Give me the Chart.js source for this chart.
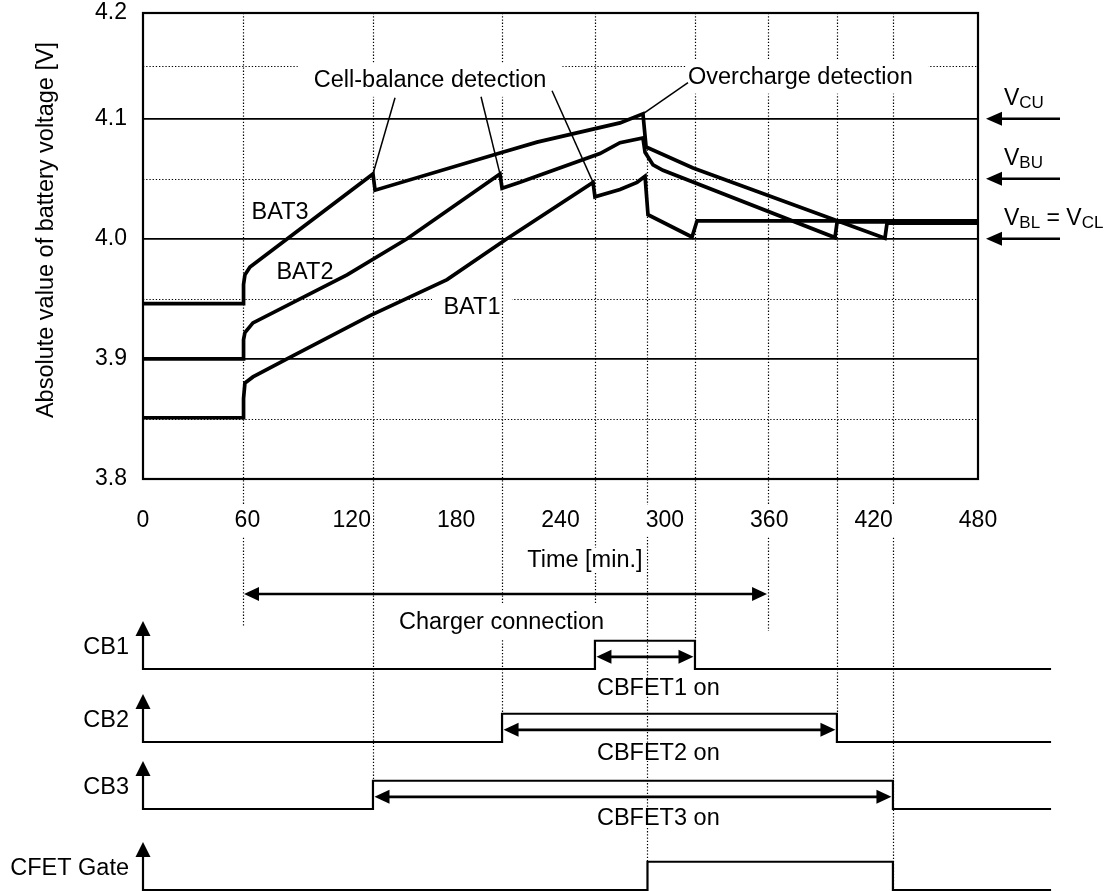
<!DOCTYPE html>
<html>
<head>
<meta charset="utf-8">
<title>Cell balance detection timing chart</title>
<script src="https://cdn.jsdelivr.net/npm/chart.js@4.4.1/dist/chart.umd.min.js"></script>
<style>
  html, body { margin:0; padding:0; background:#fff; overflow:hidden; }
  #wrap { position:relative; width:1106px; height:891px; overflow:hidden; background:#fff; }
  #wrap canvas { position:absolute; left:0; }
</style>
</head>
<body>
<div id="wrap">
  <canvas id="mainChart" width="1106" height="891" style="top:0px"></canvas>
  <canvas id="sigCB1" width="1106" height="100"></canvas>
  <canvas id="sigCB2" width="1106" height="100"></canvas>
  <canvas id="sigCB3" width="1106" height="100"></canvas>
  <canvas id="sigCFET" width="1106" height="100"></canvas>
</div>
<script>
// ---------------- data ----------------
const xTickValues = [0, 60, 120, 180, 240, 300, 360, 420, 480];
const yTickValues = [3.8, 3.9, 4.0, 4.1];
const yTopLabel = '4.2';

const bat1Time = [0, 57.5, 57.8, 58.6, 63.2, 82.8, 130.5, 174.8, 209.2, 258.7, 259.8, 274.2, 284.0, 288.6, 290.3, 315.6, 318.5, 480];
const bat1Volt = [3.851, 3.851, 3.867, 3.880, 3.885, 3.900, 3.936, 3.966, 4.000, 4.047, 4.035, 4.041, 4.047, 4.052, 4.020, 4.0015, 4.015, 4.015];

const bat2Time = [0, 57.5, 57.8, 58.6, 63.2, 117.3, 151.8, 205.2, 206.4, 216.7, 262.7, 274.2, 287.4, 288.6, 293.2, 298.9, 397.8, 399.0, 480];
const bat2Volt = [3.900, 3.900, 3.916, 3.922, 3.930, 3.970, 4.000, 4.054, 4.042, 4.047, 4.071, 4.080, 4.084, 4.072, 4.0615, 4.057, 4.001, 4.014, 4.014];

const bat3Time = [0, 57.5, 57.8, 58.6, 61.5, 132.2, 133.4, 205.2, 226.5, 274.2, 287.4, 289.2, 316.2, 426.5, 427.7, 480];
const bat3Volt = [3.946, 3.946, 3.962, 3.970, 3.9765, 4.054, 4.0405, 4.0715, 4.0805, 4.0965, 4.104, 4.0765, 4.059, 4.0005, 4.013, 4.013];

const batNames = ['BAT1', 'BAT2', 'BAT3'];
const detectTimes = [258.7, 205.2, 132.2];   // cell-balance detection peaks of BAT1, BAT2, BAT3
const overchargeTime = 287.4;                 // overcharge detection peak (BAT3)

const chargerSpan = [57.5, 359.3];
const cb1Edges = [259.8, 317.3];
const cb2Edges = [206.4, 398.9];
const cb3Edges = [132.2, 431.1];
const cfetEdges = [290.0, 431.1];
const signalEnd = 522;
const signalNames = ['CB1', 'CB2', 'CB3', 'CFET Gate'];
const onTexts = ['CBFET1 on', 'CBFET2 on', 'CBFET3 on', null];

const thresholdVolts = [4.1, 4.05, 4.0];
const thresholdLabels = [
  [['V', 0], ['CU', 1]],
  [['V', 0], ['BU', 1]],
  [['V', 0], ['BL', 1], [' = ', 0], ['V', 0], ['CL', 1]]
];

// ---------------- layout / style ----------------
const W = 1106, H = 891;
const PLOT_L = 143, PLOT_R = 978, PLOT_T = 13, PLOT_B = 479;
const X_MAX = 480, Y_MIN = 3.8, Y_TOP = 4.188;
const X_AXIS_H = 60;
const PX_PER_MIN = (PLOT_R - PLOT_L) / X_MAX;
const SIG_BASE = [669, 742, 809, 890];
const SIG_TEXT_DY = [19, 11, 9, 0];
const FAMILY = "'Liberation Sans', Arial, Helvetica, sans-serif";
const TXT = 23.5;
const font = (s) => `${s}px ${FAMILY}`;

const batLabelPos = [[189.1, 3.9432], [93.1, 3.9724], [78.8, 4.0223]];
const cellTextPos = [165.0, 4.1324];
const cellLeaderTops = [[122, 11], [51, 17], [-35, 18]];   // px offsets from text centre (BAT1, BAT2, BAT3)
const overTextPos = [313.3, 4.135];

Chart.defaults.font.family = FAMILY;
Chart.defaults.font.size = 23;
Chart.defaults.color = '#000';

// ---------------- helpers ----------------
const half = (v) => Math.round(v) + 0.5;
function dottedLine(ctx, x1, y1, x2, y2) {
  ctx.save();
  ctx.strokeStyle = '#000'; ctx.lineWidth = 1.2; ctx.setLineDash([1.3, 1.9]);
  if (x1 === x2) { x1 = x2 = half(x1); } else if (y1 === y2) { y1 = y2 = half(y1); }
  ctx.beginPath(); ctx.moveTo(x1, y1); ctx.lineTo(x2, y2); ctx.stroke();
  ctx.restore();
}
function solidLine(ctx, x1, y1, x2, y2, lw) {
  ctx.save();
  ctx.strokeStyle = '#000'; ctx.lineWidth = lw; ctx.lineCap = 'butt';
  ctx.beginPath(); ctx.moveTo(x1, y1); ctx.lineTo(x2, y2); ctx.stroke();
  ctx.restore();
}
function arrowHead(ctx, tipX, tipY, dx, dy, len, hw) {
  const bx = tipX - dx * len, by = tipY - dy * len;
  const px = -dy, py = dx;
  ctx.save(); ctx.fillStyle = '#000';
  ctx.beginPath(); ctx.moveTo(tipX, tipY);
  ctx.lineTo(bx + px * hw, by + py * hw);
  ctx.lineTo(bx - px * hw, by - py * hw);
  ctx.closePath(); ctx.fill(); ctx.restore();
}
function hArrow(ctx, x1, x2, y, leftHead, rightHead) {
  const L = 15, HW = 7;
  solidLine(ctx, x1 + (leftHead ? L - 2 : 0), y, x2 - (rightHead ? L - 2 : 0), y, 2.6);
  if (leftHead) arrowHead(ctx, x1, y, -1, 0, L, HW);
  if (rightHead) arrowHead(ctx, x2, y, 1, 0, L, HW);
}
function textWithGap(ctx, text, x, y, align, padL, padR, padY, size) {
  ctx.save();
  ctx.font = font(size || TXT);
  const w = ctx.measureText(text).width;
  const left = align === 'left' ? x : (align === 'right' ? x - w : x - w / 2);
  if (padY > 0) { ctx.fillStyle = '#fff'; ctx.fillRect(left - padL, y - padY, w + padL + padR, 2 * padY); }
  ctx.fillStyle = '#000'; ctx.textAlign = 'left'; ctx.textBaseline = 'middle';
  ctx.fillText(text, left, y + 1);
  ctx.restore();
  return { left, right: left + w };
}
function voltAt(times, volts, t) {
  const i = times.indexOf(t);
  return volts[i];
}
const mkData = (ts, vs) => ts.map((t, i) => ({ x: t, y: vs[i] }));

// ---------------- signal (timing) charts ----------------
const sigDecor = {
  id: 'sigDecor',
  afterDraw(chart, args, opts) {
    const { ctx, chartArea: ca, scales: { x, y } } = chart;
    solidLine(ctx, ca.left, ca.bottom + 1, ca.left, ca.top + 12, 2.2);
    arrowHead(ctx, ca.left, ca.top, 0, -1, 15, 7.5);
    ctx.save(); ctx.font = font(TXT); ctx.fillStyle = '#000';
    ctx.textAlign = 'right'; ctx.textBaseline = 'middle';
    ctx.fillText(opts.name, ca.left - 14, y.getPixelForValue(0.8) + 1);
    ctx.restore();
    if (opts.onText) {
      const yv = y.getPixelForValue(0.43);
      hArrow(ctx, x.getPixelForValue(opts.edges[0]) + 1.5, x.getPixelForValue(opts.edges[1]) - 1.5, yv, true, true);
      textWithGap(ctx, opts.onText, x.getPixelForValue(cb1Edges[0]) + 2, ca.bottom + opts.textDy, 'left', 3, 3, 8);
    }
  }
};

const sigCanvasIds = ['sigCB1', 'sigCB2', 'sigCB3', 'sigCFET'];
const sigEdges = [cb1Edges, cb2Edges, cb3Edges, cfetEdges];
const sigCharts = sigCanvasIds.map((id, i) => {
  const cv = document.getElementById(id);
  cv.style.top = (SIG_BASE[i] - 68) + 'px';
  const e = sigEdges[i];
  const pts = [{ x: 0, y: 0 }, { x: e[0], y: 0 }, { x: e[0], y: 1 }, { x: e[1], y: 1 }, { x: e[1], y: 0 }, { x: signalEnd, y: 0 }];
  const rightPx = PLOT_L + signalEnd * PX_PER_MIN;
  return new Chart(cv, {
    type: 'line',
    data: { datasets: [{ label: signalNames[i], data: pts, borderColor: '#000', borderWidth: 2.2, pointRadius: 0, tension: 0, fill: false, clip: false, borderJoinStyle: 'miter' }] },
    options: {
      responsive: false, maintainAspectRatio: false, animation: false, events: [],
      layout: { padding: { left: PLOT_L, right: W - rightPx, top: 20, bottom: 32 } },
      scales: {
        x: { type: 'linear', min: 0, max: signalEnd, display: false },
        y: { type: 'linear', min: 0, max: 1.7, display: false }
      },
      plugins: {
        legend: { display: false }, tooltip: { enabled: false },
        sigDecor: { name: signalNames[i], onText: onTexts[i], edges: e, textDy: SIG_TEXT_DY[i] }
      }
    },
    plugins: [sigDecor]
  });
});

function sigPix(i, v) {
  const c = sigCharts[i];
  return parseFloat(c.canvas.style.top) + c.scales.y.getPixelForValue(v);
}

// ---------------- main chart ----------------
const mainDecor = {
  id: 'mainDecor',
  beforeDraw(chart) {
    const { ctx, chartArea: ca, scales: { x, y } } = chart;
    ctx.save(); ctx.fillStyle = '#fff'; ctx.fillRect(0, 0, chart.width, chart.height); ctx.restore();
    const levels = yTickValues.concat([Y_TOP]);
    for (let i = 0; i < levels.length - 1; i++) {
      const py = y.getPixelForValue((levels[i] + levels[i + 1]) / 2);
      dottedLine(ctx, ca.left, py, ca.right, py);
    }
    const b1x = x.getPixelForValue(batLabelPos[0][0]);
    const b1y = y.getPixelForValue((yTickValues[1] + yTickValues[2]) / 2);
    ctx.save(); ctx.fillStyle = '#fff'; ctx.fillRect(b1x - 40, b1y - 3, 80, 6); ctx.restore();
    const top = ca.top;
    const ev = [
      [chargerSpan[0], top, ca.bottom + 148],
      [cb3Edges[0], top, sigPix(2, 1)],
      [cb2Edges[0], top, sigPix(1, 1)],
      [cb1Edges[0], top, sigPix(0, 1)],
      [cfetEdges[0], y.getPixelForValue(4.077), sigPix(3, 1)],
      [cb1Edges[1], top, sigPix(0, 1)],
      [chargerSpan[1], top, ca.bottom + 152],
      [cb2Edges[1], top, sigPix(1, 1)],
      [cb3Edges[1], top, sigPix(3, 0)]
    ];
    for (const [t, y0, y1] of ev) {
      const px = x.getPixelForValue(t);
      dottedLine(ctx, px, y0, px, y1);
    }
  },
  afterDraw(chart) {
    const { ctx, chartArea: ca, scales: { x, y } } = chart;
    ctx.save(); ctx.strokeStyle = '#000'; ctx.lineWidth = 2.2;
    ctx.strokeRect(ca.left, ca.top, ca.right - ca.left, ca.bottom - ca.top); ctx.restore();

    const cx = x.getPixelForValue(cellTextPos[0]), cy = y.getPixelForValue(cellTextPos[1]);
    textWithGap(ctx, 'Cell-balance detection', cx, cy, 'center', 16, 16, 17);
    const series = [[bat1Time, bat1Volt], [bat2Time, bat2Volt], [bat3Time, bat3Volt]];
    for (let i = 0; i < 3; i++) {
      const t = detectTimes[i];
      const v = voltAt(series[i][0], series[i][1], t);
      solidLine(ctx, cx + cellLeaderTops[i][0], cy + cellLeaderTops[i][1], x.getPixelForValue(t), y.getPixelForValue(v), 1.5);
    }
    const ox = x.getPixelForValue(overTextPos[0]), oy = y.getPixelForValue(overTextPos[1]);
    textWithGap(ctx, 'Overcharge detection', ox, oy, 'left', 2, 16, 17);
    solidLine(ctx, ox, oy + 6, x.getPixelForValue(overchargeTime), y.getPixelForValue(voltAt(bat3Time, bat3Volt, overchargeTime)), 1.5);

    for (let i = 0; i < 3; i++) {
      textWithGap(ctx, batNames[i], x.getPixelForValue(batLabelPos[i][0]), y.getPixelForValue(batLabelPos[i][1]), 'center', 0, 0, 0);
    }

    ctx.save(); ctx.font = font(TXT); ctx.fillStyle = '#000';
    ctx.translate(47, 230); ctx.rotate(-Math.PI / 2);
    ctx.textAlign = 'center'; ctx.textBaseline = 'middle';
    ctx.fillText('Absolute value of battery voltage [V]', 0, 0);
    ctx.restore();

    textWithGap(ctx, 'Time [min.]', x.getPixelForValue(254), ca.bottom + 81, 'center', 4, 4, 12);

    const c1 = x.getPixelForValue(chargerSpan[0]), c2 = x.getPixelForValue(chargerSpan[1]);
    hArrow(ctx, c1 + 1, c2 - 1, ca.bottom + 115, true, true);
    textWithGap(ctx, 'Charger connection', (c1 + c2) / 2 - 4, ca.bottom + 143, 'center', 4, 4, 18);

    for (let i = 0; i < thresholdVolts.length; i++) {
      const py = y.getPixelForValue(thresholdVolts[i]);
      const tip = ca.right + 8;
      solidLine(ctx, tip + 12, py, W - 46, py, 2.6);
      arrowHead(ctx, tip, py, -1, 0, 16, 7);
      let lx = ca.right + 26;
      const base = py - 14;
      ctx.save(); ctx.fillStyle = '#000'; ctx.textAlign = 'left'; ctx.textBaseline = 'alphabetic';
      for (const [txt, sub] of thresholdLabels[i]) {
        ctx.font = font(sub ? 17 : 23);
        ctx.fillText(txt, lx, sub ? base + 3 : base);
        lx += ctx.measureText(txt).width;
      }
      ctx.restore();
    }
  }
};

const lineStyle = { borderColor: '#000', borderWidth: 3.7, pointRadius: 0, tension: 0, fill: false, borderJoinStyle: 'miter', borderCapStyle: 'butt' };

const mainChart = new Chart(document.getElementById('mainChart'), {
  type: 'line',
  data: {
    datasets: [
      Object.assign({ label: batNames[0], data: mkData(bat1Time, bat1Volt) }, lineStyle),
      Object.assign({ label: batNames[1], data: mkData(bat2Time, bat2Volt) }, lineStyle),
      Object.assign({ label: batNames[2], data: mkData(bat3Time, bat3Volt) }, lineStyle)
    ]
  },
  options: {
    responsive: false, maintainAspectRatio: false, animation: false, events: [],
    layout: { padding: { left: 0, right: W - PLOT_R, top: PLOT_T, bottom: H - PLOT_B - X_AXIS_H } },
    plugins: { legend: { display: false }, tooltip: { enabled: false } },
    scales: {
      x: {
        type: 'linear', min: 0, max: X_MAX,
        afterBuildTicks: (s) => { s.ticks = xTickValues.map(v => ({ value: v })); },
        ticks: { font: { size: 23 }, padding: 28, maxRotation: 0, autoSkip: false,
                 showLabelBackdrop: true, backdropColor: '#fff', backdropPadding: 2,
                 callback: (v) => String(v) },
        grid: { display: false, drawTicks: false },
        border: { display: false },
        afterFit: (s) => { s.height = X_AXIS_H; s.paddingLeft = 0; s.paddingRight = 0; }
      },
      y: {
        type: 'linear', min: Y_MIN, max: Y_TOP,
        afterBuildTicks: (s) => { s.ticks = yTickValues.map(v => ({ value: v })).concat([{ value: Y_TOP }]); },
        ticks: { font: { size: 23 }, padding: 16,
                 callback: (v) => (v === Y_TOP ? yTopLabel : Number(v).toFixed(1)) },
        grid: { drawTicks: false, lineWidth: 1.7,
                color: (c) => (c.tick && c.tick.value !== Y_TOP && c.tick.value !== Y_MIN) ? '#000' : 'rgba(0,0,0,0)' },
        border: { display: false },
        afterFit: (s) => { s.width = PLOT_L; s.paddingTop = 0; s.paddingBottom = 0; }
      }
    }
  },
  plugins: [mainDecor]
});
</script>
</body>
</html>
